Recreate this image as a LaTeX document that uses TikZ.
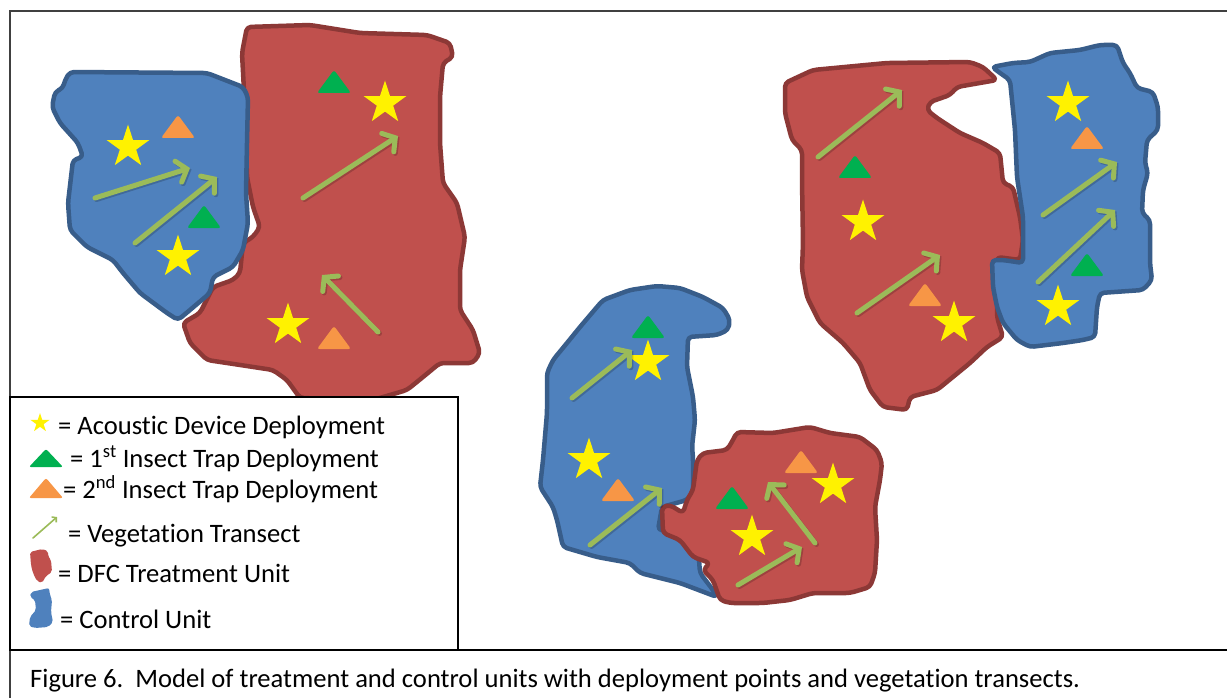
\documentclass[tikz,border=0pt]{standalone}
\usepackage{fontspec}
\setmainfont{Carlito}[Ligatures=NoCommon]
\usetikzlibrary{shapes.geometric,arrows.meta,calc}
\definecolor{redfill}{HTML}{C0504D}
\definecolor{redline}{HTML}{8C3836}
\definecolor{bluefill}{HTML}{4F81BD}
\definecolor{blueline}{HTML}{385D8A}
\definecolor{trgreen}{HTML}{00B050}
\definecolor{trorange}{HTML}{F79646}
\definecolor{transect}{HTML}{9BBB59}
\definecolor{framegray}{HTML}{404040}
\tikzset{
  treat/.style={fill=redfill, draw=redline, line width=4.5pt, rounded corners=4pt, line join=round},
  ctrl/.style={fill=bluefill, draw=blueline, line width=4.5pt, rounded corners=4pt, line join=round},
  acoustic/.style={star, star points=5, star point ratio=2.618, minimum size=45pt, inner sep=0pt, fill=yellow},
  tri/.pic={\fill[rounded corners=2.5pt, #1] (-17,11) -- (0,-12) -- (17,11) -- cycle;},
  vegline/.style={draw=transect, line width=5pt, line cap=round,
     -{Straight Barb[length=9pt, width=22pt, line cap=round]}},
  vegshadow/.style={draw=black, opacity=0.18, line width=5pt, line cap=round,
     -{Straight Barb[length=9pt, width=22pt, line cap=round]}},
  legtext/.style={anchor=base west, inner sep=0pt, font=\fontsize{26.6}{30}\selectfont},
}
\newcommand{\veg}[2]{\draw[vegshadow] ($#1+(1.5,1.5)$) -- ($#2+(1.5,1.5)$); \draw[vegline] #1 -- #2;}
\begin{document}
\begin{tikzpicture}[x=1pt,y=-1pt]
\useasboundingbox (0,0) rectangle (1227,698);
\fill[white] (0,0) rectangle (1227,698);

% ---------- left group ----------
\path[treat] (247,27) -- (310,25) -- (360,33) -- (427,35) -- (450,43) -- (453,57) -- (443,63)
  -- (440,97) -- (440,143) -- (443,183) -- (457,203) -- (465,237) -- (460,270) -- (460,310)
  -- (473,330) -- (480,353) -- (473,363) -- (440,363) -- (423,377) -- (407,390) -- (373,400)
  -- (300,398) -- (287,380) -- (273,370) -- (227,363) -- (207,360) -- (190,343) -- (183,323)
  -- (200,313) -- (213,287) -- (233,280) -- (240,273) -- (243,243) -- (253,237) -- (260,227)
  -- (253,207) -- (247,177) -- (245,110) -- (242,53) -- cycle;
\path[ctrl] (70,72) -- (207,73) -- (243,87) -- (248,97) -- (247,143) -- (246,193) -- (248,223)
  -- (243,250) -- (233,267) -- (213,277) -- (210,293) -- (190,310) -- (178,320) -- (167,313)
  -- (140,293) -- (123,273) -- (113,260) -- (87,247) -- (70,230) -- (68,203) -- (73,160)
  -- (83,157) -- (78,143) -- (60,123) -- (52,107) -- (55,92) -- (63,88) -- (65,80) -- cycle;

\node[acoustic] (s1) at (128,147) {};
\pic at (178,127) {tri=trorange};
\pic at (204,217) {tri=trgreen};
\node[acoustic] (s2) at (178,257) {};
\veg{(95,198)}{(190,168)}
\veg{(135,243)}{(217,177)}
\pic at (334,82) {tri=trgreen};
\node[acoustic] (s3) at (385,103) {};
\veg{(303,198)}{(398,136)}
\veg{(378,332)}{(322,275)}
\node[acoustic] (s4) at (288,325) {};
\pic at (334,338) {tri=trorange};

% ---------- middle group ----------
\path[ctrl] (603,300) -- (630,290) -- (657,286) -- (680,288) -- (703,297) -- (723,308) -- (730,320)
  -- (728,330) -- (717,335) -- (688,337) -- (687,367) -- (693,397) -- (695,420) -- (692,447)
  -- (693,457) -- (693,493) -- (687,500) -- (662,507) -- (658,530) -- (697,533) -- (700,573)
  -- (713,590) -- (717,597) -- (680,583) -- (640,573) -- (630,563) -- (597,557) -- (563,547)
  -- (557,520) -- (553,507) -- (540,487) -- (543,460) -- (547,413) -- (547,373) -- (553,360)
  -- (567,343) -- (580,327) -- (597,307) -- cycle;
\path[treat] (737,432) -- (773,433) -- (810,427) -- (830,433) -- (860,437) -- (877,450) -- (882,463)
  -- (880,480) -- (875,507) -- (877,540) -- (875,573) -- (870,587) -- (850,593) -- (813,593)
  -- (790,600) -- (763,603) -- (730,603) -- (720,600) -- (713,580) -- (703,570) -- (710,563)
  -- (693,557) -- (680,540) -- (663,533) -- (662,507) -- (670,505) -- (683,513) -- (687,500)
  -- (693,490) -- (697,460) -- (703,453) -- (727,450) -- (733,440) -- cycle;

\pic at (648,327) {tri=trgreen};
\node[acoustic] (s5) at (648,362) {};
\veg{(572,398)}{(632,350)}
\node[acoustic] (s6) at (589,460) {};
\pic at (618,490) {tri=trorange};
\veg{(590,545)}{(662,488)}
\pic at (801,462) {tri=trorange};
\node[acoustic] (s7) at (833,485) {};
\pic at (732,498) {tri=trgreen};
\node[acoustic] (s8) at (752,537) {};
\veg{(815,543)}{(768,482)}
\veg{(738,585)}{(802,547)}

% ---------- right group ----------
\path[treat] (785,83) -- (813,70) -- (887,63) -- (970,62) -- (983,67) -- (997,80) -- (957,87)
  -- (950,95) -- (930,102) -- (927,110) -- (937,118) -- (960,133) -- (983,143) -- (1000,153)
  -- (1003,183) -- (1013,187) -- (1020,217) -- (1023,240) -- (1020,260) -- (997,257)
  -- (997,317) -- (1003,337) -- (987,347) -- (970,363) -- (937,390) -- (910,397) -- (907,410)
  -- (883,407) -- (870,390) -- (860,363) -- (843,343) -- (820,323) -- (807,297) -- (802,270)
  -- (803,243) -- (802,180) -- (802,150) -- (792,140) -- (785,113) -- cycle;
\path[ctrl] (992,67) -- (1013,63) -- (1030,62) -- (1050,53) -- (1080,50) -- (1100,45) -- (1117,45)
  -- (1123,63) -- (1130,73) -- (1137,88) -- (1153,92) -- (1158,107) -- (1158,130) -- (1147,140)
  -- (1145,163) -- (1148,173) -- (1143,190) -- (1142,213) -- (1150,220) -- (1150,263)
  -- (1152,280) -- (1143,290) -- (1100,293) -- (1097,307) -- (1095,337) -- (1083,340)
  -- (1063,343) -- (1030,347) -- (1017,340) -- (1003,323) -- (997,307) -- (993,287) -- (992,260)
  -- (1003,260) -- (1023,263) -- (1023,217) -- (1017,177) -- (1015,130) -- (1010,80) -- (1000,73) -- cycle;

\veg{(818,157)}{(902,90)}
\pic at (855,167) {tri=trgreen};
\node[acoustic] (s9) at (863,222) {};
\veg{(857,313)}{(940,255)}
\pic at (925,295) {tri=trorange};
\node[acoustic] (s10) at (954,323) {};
\node[acoustic] (s11) at (1068,103) {};
\pic at (1087,138) {tri=trorange};
\veg{(1043,215)}{(1117,162)}
\veg{(1038,282)}{(1115,210)}
\pic at (1087,265) {tri=trgreen};
\node[acoustic] (s12) at (1058,307) {};

% ---------- frame ----------
\draw[framegray, line width=1.5pt] (10,698) -- (10,11) -- (1227,11);
\draw[black, line width=1.5pt] (10,650) -- (1227,650);

% ---------- legend ----------
\draw[black, line width=1.3pt, fill=white] (10,397) rectangle (458,650);
\node[star, star points=5, star point ratio=2.618, minimum size=20pt, inner sep=0pt, fill=yellow] (ls) at (40,423) {};
\node[legtext] (l1) at (58,434) {= Acoustic Device Deployment};
\fill[trgreen, rounded corners=2pt] (29,467) -- (46,449) -- (63,467) -- cycle;
\node[legtext] (l2) at (70,467) {= 1\textsuperscript{st} Insect Trap Deployment};
\fill[trorange, rounded corners=2pt] (29,498) -- (46,478) -- (63,498) -- cycle;
\node[legtext] (l3) at (63,498) {= 2\textsuperscript{nd} Insect Trap Deployment};
\draw[transect, line width=1.6pt, line cap=round, -{Straight Barb[length=3pt, width=7pt]}] (33,538) -- (57,517);
\node[legtext] (l4) at (68,542) {= Vegetation Transect};
\fill[redfill, rounded corners=2pt] (30,552) -- (42,549) -- (48,551) -- (48,556) -- (51,560) -- (52,572)
  -- (46,576) -- (42,583) -- (37,581) -- (33,573) -- (31,565) -- cycle;
\node[legtext] (l5) at (58,582) {= DFC Treatment Unit};
\fill[bluefill, rounded corners=2pt] (31,592) -- (40,590) -- (49,588) -- (50,595) -- (52,600) -- (51,612)
  -- (53,622) -- (48,627) -- (35,628) -- (29,626) -- (30,617) -- (36,610) -- (35,600) -- (30,597) -- cycle;
\node[legtext] (l6) at (60,628) {= Control Unit};

% ---------- caption ----------
\node[anchor=base west, inner sep=0pt, font=\fontsize{26.6}{30}\selectfont] (cap) at (30,687)
  {Figure 6.\ \ Model of treatment and control units with deployment points and vegetation transects.};
\end{tikzpicture}
\end{document}
